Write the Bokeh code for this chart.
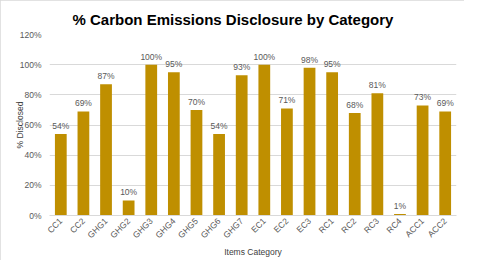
from bokeh.plotting import figure
from bokeh.models import ColumnDataSource, NumeralTickFormatter
from bokeh.core.properties import value
from bokeh.embed import file_html
from bokeh.resources import INLINE
import math

categories = ["CC1", "CC2", "GHG1", "GHG2", "GHG3", "GHG4", "GHG5", "GHG6", "GHG7",
              "EC1", "EC2", "EC3", "RC1", "RC2", "RC3", "RC4", "ACC1", "ACC2"]
disclosed = [54, 69, 87, 10, 100, 95, 70, 54, 93, 100, 71, 98, 95, 68, 81, 1, 73, 69]
y_ticks = [0, 20, 40, 60, 80, 100, 120]

FONT = "Liberation Sans"
GRAY = "#595959"

src = ColumnDataSource(dict(
    cat=categories,
    val=[v / 100 for v in disclosed],
    lab=[f"{v}%" for v in disclosed],
))

p = figure(x_range=categories, y_range=(0, 1.2), frame_width=407, frame_height=181,
           output_backend="svg", toolbar_location=None,
           min_border_left=49, min_border_right=8, min_border_top=34, min_border_bottom=45,
           styles={"outline": "1px solid #d9d9d9", "outline-offset": "-1px"})

p.vbar(x="cat", top="val", width=0.52, source=src, color="#BF8F00", line_color=None)
p.text(x="cat", y="val", text="lab", source=src, text_align="center",
       text_baseline="bottom", y_offset=-3, text_font=value(FONT),
       text_font_size="8.5px", text_color=GRAY)

p.title.text = "% Carbon Emissions Disclosure by Category"
p.title.align = "left"
p.title.text_font = FONT
p.title.text_font_size = "15px"
p.title.text_font_style = "bold"
p.title.text_color = "black"
p.title.offset = 23
p.title.standoff = 14

p.yaxis.ticker = [t / 100 for t in y_ticks]
p.yaxis.formatter = NumeralTickFormatter(format="0%")
p.yaxis.axis_label = "% Disclosed"
p.xaxis.axis_label = "Items Category"
for ax in (p.xaxis, p.yaxis):
    ax.axis_label_text_font = FONT
    ax.axis_label_text_font_size = "8.5px"
    ax.axis_label_text_font_style = "normal"
    ax.axis_label_text_color = "#404040"
    ax.major_label_text_font = FONT
    ax.major_label_text_font_size = "8.5px"
    ax.major_label_text_color = GRAY
    ax.major_tick_line_color = None
    ax.minor_tick_line_color = None
    ax.major_tick_out = 0
    ax.major_tick_in = 0
p.yaxis.axis_line_color = None
p.xaxis.axis_line_color = "#d9d9d9"
p.xaxis.major_label_orientation = math.pi / 4
p.xaxis.major_label_standoff = 4
p.xaxis.axis_label_standoff = 0
p.yaxis.axis_label_standoff = -8
p.yaxis.major_label_standoff = 8

p.xgrid.grid_line_color = None
p.ygrid.grid_line_color = "#d9d9d9"
p.outline_line_color = None
p.background_fill_color = "white"
p.border_fill_color = "white"

open("out.html", "w").write(file_html(p, INLINE))
